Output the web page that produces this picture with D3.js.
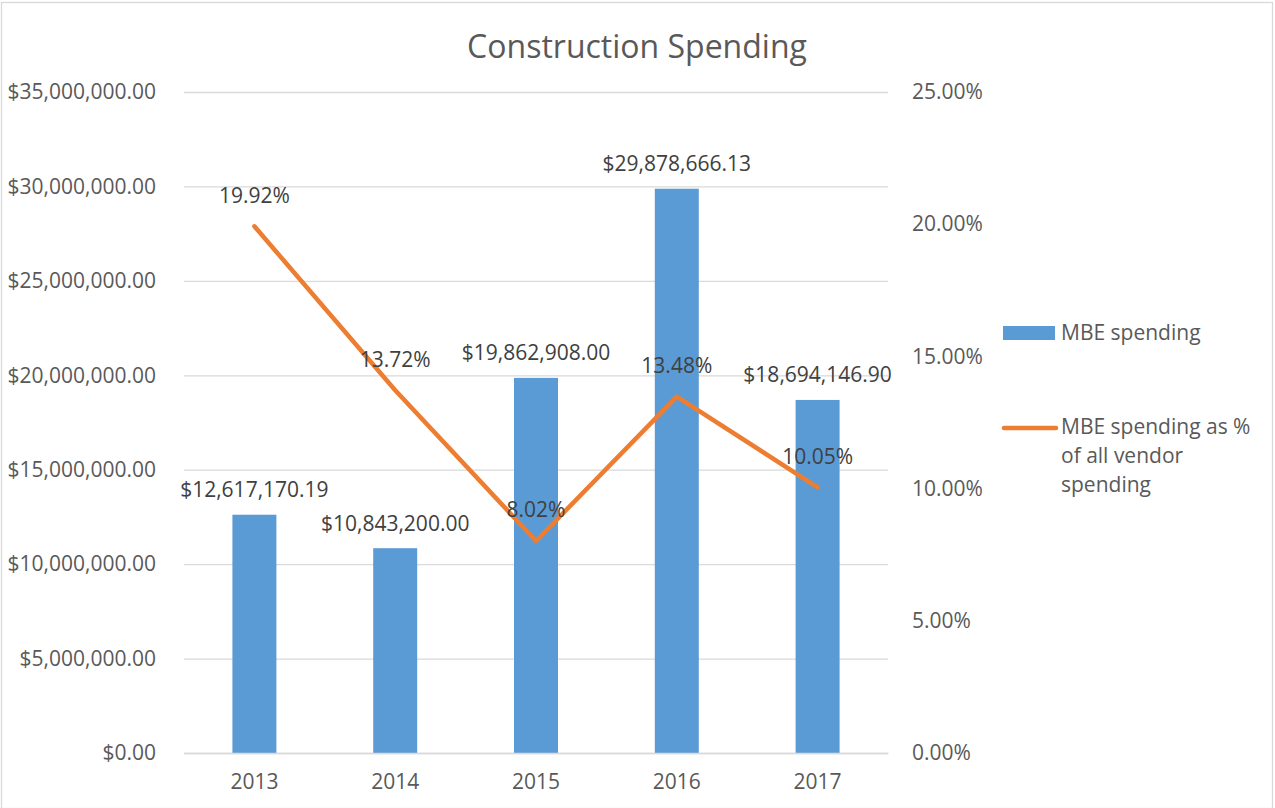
<!DOCTYPE html>
<html>
<head>
<meta charset="utf-8">
<script src="https://cdn.jsdelivr.net/npm/d3@7"></script>
<style>
  body { margin: 0; background: #fff; }
  svg { font-family: "Open Sans", sans-serif; }
  .tick-label { fill: #595959; font-size: 21px; }
  .data-label { fill: #404040; font-size: 21px; }
</style>
</head>
<body>
<script>
var years = ["2013", "2014", "2015", "2016", "2017"];
var spending = [12617170.19, 10843200.00, 19862908.00, 29878666.13, 18694146.90];
var percents = [0.1992, 0.1372, 0.0802, 0.1348, 0.1005];
var leftTicks = [0, 5e6, 10e6, 15e6, 20e6, 25e6, 30e6, 35e6];
var rightTicks = [0, 0.05, 0.10, 0.15, 0.20, 0.25];

var width = 1275;
var height = 808;
var plotLeft = 184, plotRight = 888, plotTop = 92, plotBottom = 753;

var svg = d3.select("body").append("svg")
  .attr("width", width)
  .attr("height", height);

// chart border
svg.append("rect")
  .attr("x", 1.5).attr("y", 2.5)
  .attr("width", 1271).attr("height", 806)
  .attr("fill", "none")
  .attr("stroke", "#d9d9d9")
  .attr("stroke-width", 1.3);

var xScale = d3.scaleBand()
  .domain(years)
  .range([plotLeft, plotRight]);
var yScale = d3.scaleLinear()
  .domain([0, 35e6])
  .range([plotBottom, plotTop]);
var y2Scale = d3.scaleLinear()
  .domain([0, 0.25])
  .range([plotBottom, plotTop]);

var xc = function(d) { return xScale(d) + xScale.bandwidth() / 2; };

// gridlines
svg.append("g")
  .attr("transform", "translate(" + plotLeft + ",0)")
  .call(d3.axisLeft(yScale).tickValues(leftTicks).tickSize(-(plotRight - plotLeft)).tickFormat(""))
  .call(function(g) { g.select(".domain").remove(); })
  .selectAll("line")
    .attr("stroke", "#d9d9d9")
    .attr("stroke-width", 1.3);

// left axis labels
var yAxis = svg.append("g")
  .attr("transform", "translate(" + plotLeft + ",0)")
  .call(d3.axisLeft(yScale).tickValues(leftTicks).tickSize(0).tickPadding(28)
    .tickFormat(d3.format("$,.2f")));
yAxis.select(".domain").remove();
yAxis.selectAll("text").attr("class", "tick-label");
yAxis.attr("font-family", null).attr("font-size", null);

// right axis labels
var y2Axis = svg.append("g")
  .attr("transform", "translate(" + plotRight + ",0)")
  .call(d3.axisRight(y2Scale).tickValues(rightTicks).tickSize(0).tickPadding(24)
    .tickFormat(d3.format(".2%")));
y2Axis.select(".domain").remove();
y2Axis.selectAll("text").attr("class", "tick-label");
y2Axis.attr("font-family", null).attr("font-size", null);

// bars
var barW = xScale.bandwidth() * 0.3125;
svg.selectAll(".bar")
  .data(spending)
  .enter().append("rect")
    .attr("class", "bar")
    .attr("x", function(d, i) { return xc(years[i]) - barW / 2; })
    .attr("y", function(d) { return yScale(d); })
    .attr("width", barW)
    .attr("height", function(d) { return plotBottom - yScale(d); })
    .attr("fill", "#5b9bd5");

// x axis
var xAxis = svg.append("g")
  .attr("transform", "translate(0," + plotBottom + ")")
  .call(d3.axisBottom(xScale).tickSize(0).tickPadding(21));
xAxis.select(".domain").attr("stroke", "#d9d9d9").attr("stroke-width", 1.3);
xAxis.selectAll("text").attr("class", "tick-label");
xAxis.attr("font-family", null).attr("font-size", null);

// line
var line = d3.line()
  .x(function(d, i) { return xc(years[i]); })
  .y(function(d) { return y2Scale(d); });

svg.append("path")
  .datum(percents)
  .attr("d", line)
  .attr("fill", "none")
  .attr("stroke", "#ed7d31")
  .attr("stroke-width", 4.5)
  .attr("stroke-linejoin", "round")
  .attr("stroke-linecap", "round");

// data labels
svg.selectAll(".bar-label")
  .data(spending)
  .enter().append("text")
    .attr("class", "data-label")
    .attr("text-anchor", "middle")
    .attr("x", function(d, i) { return xc(years[i]); })
    .attr("y", function(d) { return yScale(d) - 25; })
    .attr("dy", "0.35em")
    .text(function(d) { return d3.format("$,.2f")(d); });

svg.selectAll(".line-label")
  .data(percents)
  .enter().append("text")
    .attr("class", "data-label")
    .attr("text-anchor", "middle")
    .attr("x", function(d, i) { return xc(years[i]); })
    .attr("y", function(d) { return y2Scale(d) - 31; })
    .attr("dy", "0.35em")
    .text(function(d) { return d3.format(".2%")(d); });

// title
svg.append("text")
  .attr("x", 637)
  .attr("y", 58)
  .attr("text-anchor", "middle")
  .attr("fill", "#595959")
  .attr("font-size", 32)
  .text("Construction Spending");

// legend
svg.append("rect")
  .attr("x", 1003).attr("y", 326)
  .attr("width", 52).attr("height", 14)
  .attr("fill", "#5b9bd5");
svg.append("text")
  .attr("class", "tick-label")
  .attr("x", 1061).attr("y", 340)
  .text("MBE spending");

svg.append("line")
  .attr("x1", 1004).attr("x2", 1056)
  .attr("y1", 428).attr("y2", 428)
  .attr("stroke", "#ed7d31")
  .attr("stroke-width", 4.5)
  .attr("stroke-linecap", "round");
svg.append("text")
  .attr("class", "tick-label")
  .attr("x", 1061).attr("y", 434)
  .selectAll("tspan")
  .data(["MBE spending as %", "of all vendor", "spending"])
  .enter().append("tspan")
    .attr("x", 1061)
    .attr("dy", function(d, i) { return i === 0 ? 0 : 29; })
    .text(function(d) { return d; });
</script>
</body>
</html>
